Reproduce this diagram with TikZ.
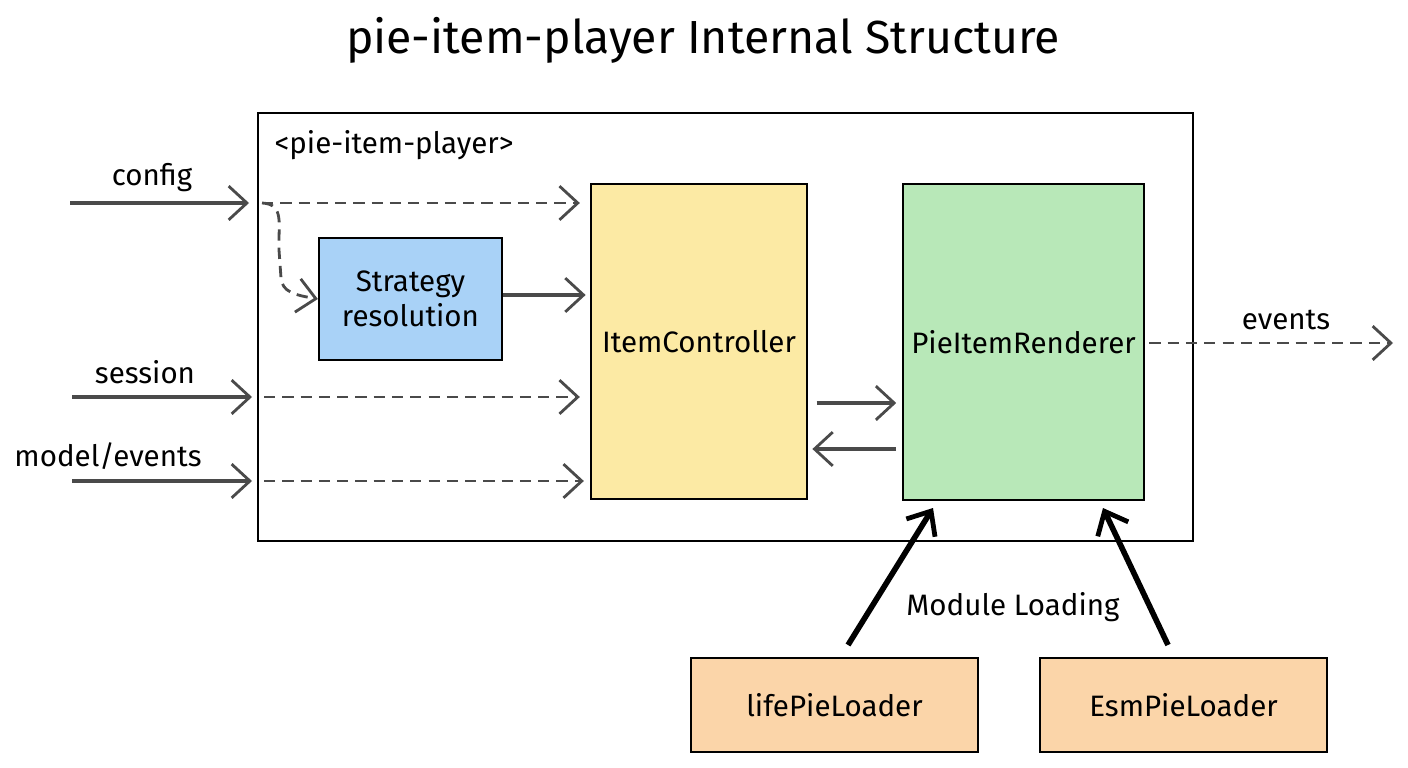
\documentclass[tikz,border=0pt]{standalone}
\usepackage{fontspec}
\setmainfont{Fira Sans}
\usetikzlibrary{arrows.meta}
\definecolor{arrgray}{HTML}{4A4A4A}
\definecolor{ycol}{HTML}{FCEAA4}
\definecolor{gcol}{HTML}{B8E8B8}
\definecolor{bcol}{HTML}{A9D2F7}
\definecolor{ocol}{HTML}{FBD5A9}
\begin{document}
\begin{tikzpicture}[x=0.025cm,y=-0.025cm,
  box/.style={draw=black,line width=1.6pt,inner sep=0pt,align=center,font=\fontsize{21}{25}\selectfont},
  lbl/.style={font=\fontsize{21}{25}\selectfont,inner sep=1pt},
  arr/.style={draw=arrgray,line width=2.5pt,-{Straight Barb[length=13pt,width=24pt,line width=2pt]}},
  darr/.style={arr,line width=2pt,dash pattern=on 8pt off 5pt},
  bigarr/.style={draw=black,line width=4pt,-{Straight Barb[length=14pt,width=24pt,line width=3.4pt]}}]
\useasboundingbox (0,0) rectangle (1408,768);

\node[font=\fontsize{33}{40}\selectfont] (title) at (703,40) {pie-item-player Internal Structure};

\node[box,minimum width=23.375cm,minimum height=10.7cm,line width=1.9pt] (outer) at (725.5,327) {};
\node[lbl,anchor=west] (outerlbl) at (273,145) {<pie-item-player>};

\node[box,fill=ycol,minimum width=5.4cm,minimum height=7.875cm] (ic) at (699,341.5) {ItemController};
\node[box,fill=gcol,minimum width=6.025cm,minimum height=7.9cm] (pr) at (1023.5,342) {PieItemRenderer};
\node[box,fill=bcol,minimum width=4.575cm,minimum height=3.05cm] (sr) at (410.5,299) {Strategy\\resolution};
\node[box,fill=ocol,minimum width=7.175cm,minimum height=2.35cm] (ll) at (834.5,705) {lifePieLoader};
\node[box,fill=ocol,minimum width=7.175cm,minimum height=2.35cm] (el) at (1183.5,705) {EsmPieLoader};

\node[lbl] (ml) at (1013,607) {Module Loading};

% inputs
\coordinate (cfgin) at (70,203);
\coordinate (cfgend) at (249,203);
\coordinate (cfgsplit) at (262,203);
\coordinate (sesin) at (72,397);
\coordinate (sesend) at (252,397);
\coordinate (sessplit) at (264,397);
\coordinate (modin) at (72,481);
\coordinate (modend) at (252,481);
\coordinate (modsplit) at (264,481);
\coordinate (evout) at (1393,343);

\node[lbl] (cfglbl) at (152,178) {config};
\node[lbl] (seslbl) at (145,372) {session};
\node[lbl] (modlbl) at (108,456) {model/events};
\node[lbl] (evlbl) at (1286,320) {events};

\draw[arr] (cfgin) -- (cfgend);
\draw[arr] (sesin) -- (sesend);
\draw[arr] (modin) -- (modend);

\draw[darr,shorten >=0.25cm] (cfgsplit) -- (ic.west|-cfgsplit);
\draw[darr] (cfgsplit) .. controls (285,204) and (278,225) .. (279,250) -- (281,278) .. controls (282,292) and (295,295) .. (sr.west);
\draw[darr,shorten >=0.25cm] (sessplit) -- (ic.west|-sessplit);
\draw[darr,shorten >=0.15cm] (modsplit) -- (ic.west|-modsplit);

\draw[arr,shorten >=3pt] (sr.east|-0,295) -- (ic.west|-0,295);
\draw[arr,shorten <=6pt,shorten >=4pt] (ic.east|-0,403) -- (pr.west|-0,403);
\draw[arr,shorten <=4pt,shorten >=3pt] (pr.west|-0,449) -- (ic.east|-0,449);

\draw[darr,shorten <=3pt] (pr.east|-evout) -- (evout);

% module loading arrows
\coordinate (llstart) at (848,645);
\coordinate (llend) at (933,508);
\coordinate (elstart) at (1168,645);
\coordinate (elend) at (1103,508);
\draw[bigarr] (llstart) -- (llend);
\draw[bigarr] (elstart) -- (elend);
\end{tikzpicture}
\end{document}
